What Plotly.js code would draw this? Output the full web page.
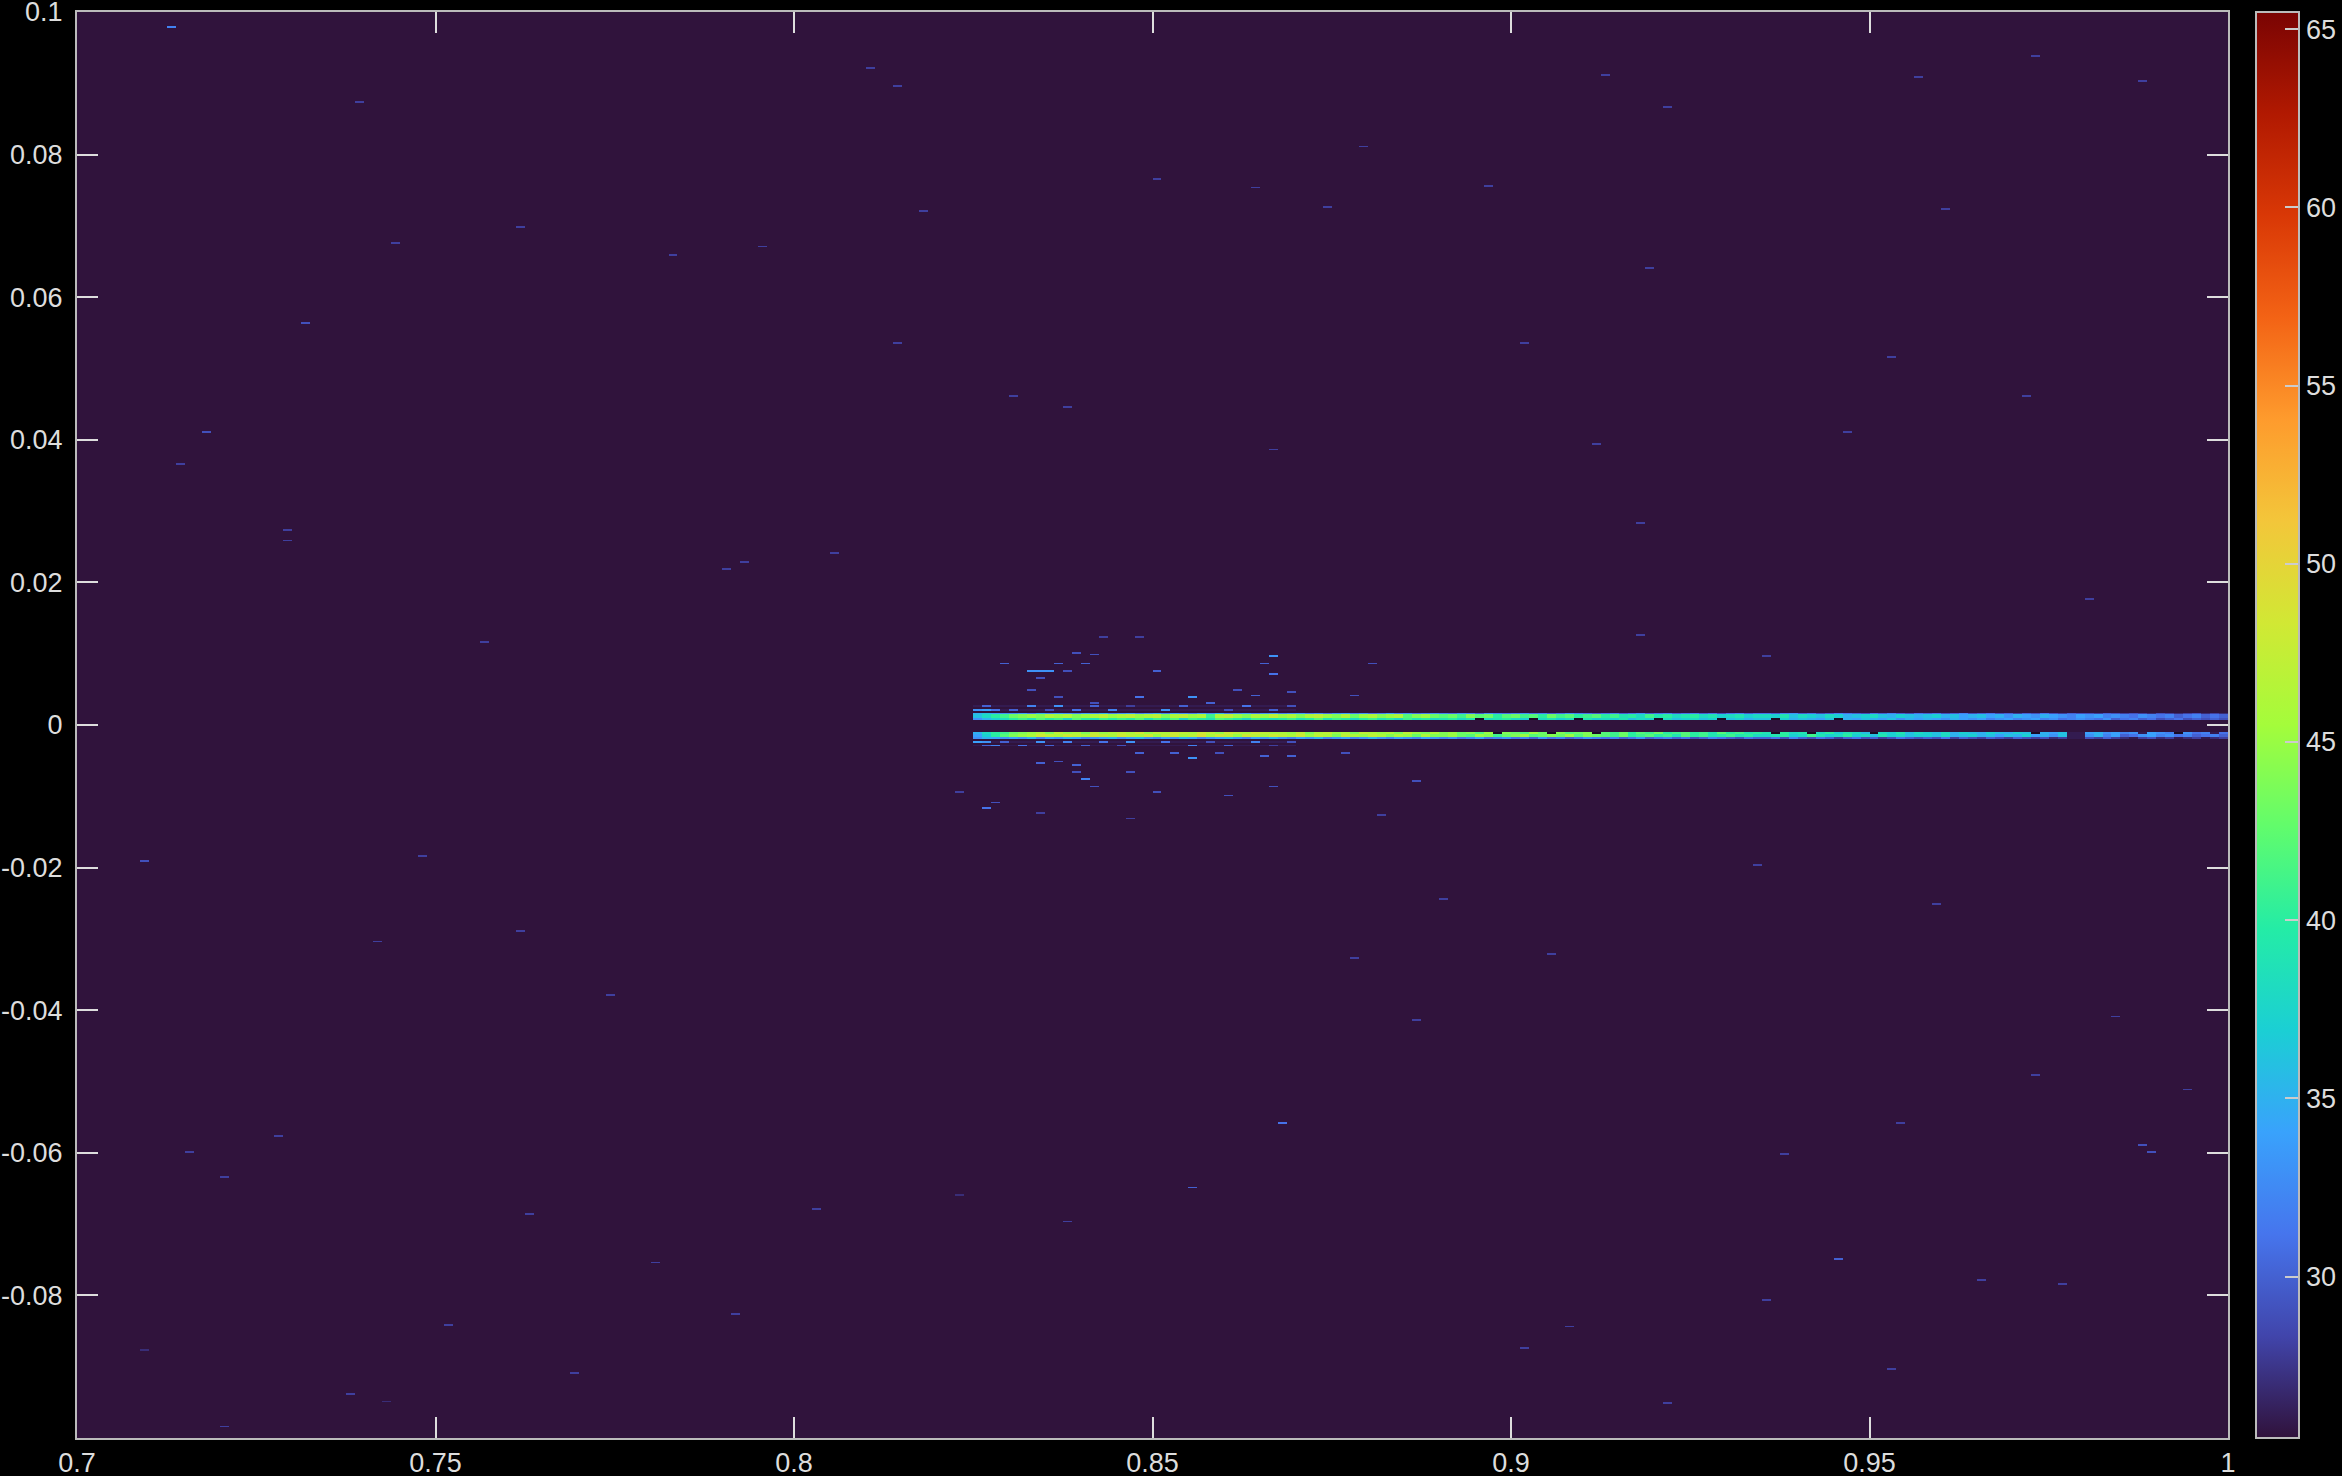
<!DOCTYPE html>
<html>
<head>
<meta charset="utf-8">
<script src="https://cdn.plot.ly/plotly-3.0.1.min.js"></script>
<style>html,body{margin:0;padding:0;background:#000;}#chart{width:2342px;height:1476px;}</style>
</head>
<body>
<div id="chart"></div>
<script>
// ---------------- DATA ----------------
const xTickVals = [0.7, 0.75, 0.8, 0.85, 0.9, 0.95, 1];
const xTickText = ['0.7', '0.75', '0.8', '0.85', '0.9', '0.95', '1'];
const yTickVals = [0.1, 0.08, 0.06, 0.04, 0.02, 0, -0.02, -0.04, -0.06, -0.08];
const yTickText = ['0.1', '0.08', '0.06', '0.04', '0.02', '0', '-0.02', '-0.04', '-0.06', '-0.08'];
const cbTickVals = [30, 35, 40, 45, 50, 55, 60, 65];

const zMin = 25.47, zMax = 65.48, zBackground = 25.5;
const xStart = 0.7, xBin = 0.00125, nCols = 240;   // 0.7 .. 1.0
const yStart = -0.1, yBin = 0.00025, nRows = 800;  // -0.1 .. 0.1

// band: columns from x = 0.825 (column 100) to x = 1.0 (column 239)
const bandFirstCol = 100;
// upper band (y ~ +0.00075..+0.00175)
const upperInner = [33,35,37,38,
 40,41,39,42,40,41,38,42,40,39,41,40,
 41,40,42,39,41,40,42,38,41,40,39,42,41,40,38,41,40,39,
 40,41,39,40,42,39,41,40,38,40,41,39,40,38,41,39,40,38,
 39,40,38,39,null,38,39,40,38,37,null,38,39,37,38,null,39,37,
 38,37,39,36,38,37,null,38,36,37,38,36,37,null,36,37,35,36,
 36,null,37,35,36,35,34,36,null,35,34,36,35,34,36,33,35,34,
 35,34,33,35,34,33,34,32,33,34,32,33,34,32,33,31,32,33,
 32,31,33,30,31,32,30,31,29,30,31,29,30,29,30,29];
const upperCore = [36,38,40,41,
 43,44,45,44,46,45,46,44,45,46,47,45,
 46,47,45,46,47,44,46,47,45,46,41,46,47,45,44,46,45,47,
 45,46,44,46,47,45,44,46,43,45,46,44,45,46,42,44,45,43,
 42,43,41,44,42,43,40,42,43,41,42,40,43,41,42,40,41,42,
 40,41,39,40,38,41,39,40,38,39,40,38,39,37,38,39,37,38,
 38,37,39,36,38,37,36,38,37,35,36,37,38,36,35,37,36,35,
 36,37,35,36,34,35,36,34,35,33,35,34,33,35,34,33,32,34,
 33,34,32,33,32,31,33,32,31,32,30,31,32,30,31,30];
const upperOuter = [35,36,34,33,
 33,34,32,35,33,34,33,32,34,33,35,32,
 33,34,32,33,35,32,34,33,32,34,33,35,32,33,34,32,33,34,
 32,33,34,32,33,31,33,34,32,33,31,32,34,32,33,31,32,33,
 32,31,33,32,30,33,32,31,32,33,31,32,30,31,33,32,31,30,
 31,32,30,31,33,30,31,32,30,31,32,30,31,29,31,32,30,31,
 31,30,32,33,30,31,29,30,32,31,30,29,31,30,32,30,29,31,
 30,31,29,30,32,29,30,31,29,30,28,30,29,31,29,28,30,29,
 29,28,30,29,28,29,28,27,29,28,27,28,29,27,28,27];
const upperHaloA = [33,34,31,26,30,26,26,26,29,26,26,31,26,26,26,32,26,26,26,26,
 26,33,26,26,26,26,26,26,29,26,26,26,26,30,26,26];
const upperHaloB = [26,30,26,26,26,26,32,26,26,33,26,26,26,30,26,26,26,28,26,26,
 26,26,26,30,26,26,26,26,26,26,31,26,26,26,26,29];
// lower band (y ~ -0.001..-0.002)
const lowerInner = [35,38,40,41,
 43,44,45,46,44,47,45,46,44,47,45,46,
 47,46,48,45,47,46,48,47,46,48,47,45,48,47,46,48,47,46,
 46,45,47,44,46,47,45,46,44,47,46,45,46,44,47,45,44,46,
 44,45,43,44,42,45,null,44,43,42,45,43,null,44,42,43,44,null,
 42,41,43,40,42,41,43,40,41,42,40,41,39,42,40,41,39,40,
 39,null,40,38,39,null,38,40,37,39,38,36,null,38,37,39,36,38,
 37,36,38,35,37,36,35,37,36,35,37,36,null,35,34,36,26,26,
 34,35,33,34,32,33,26,34,33,32,null,33,31,32,26,31];
const lowerCore = [34,37,40,42,
 44,45,46,48,47,46,48,47,46,48,47,46,
 48,47,46,48,45,47,48,46,47,49,46,48,47,45,48,47,46,48,
 47,46,48,45,47,46,44,47,46,45,47,46,44,46,45,43,46,44,
 44,45,43,42,45,44,41,43,44,45,42,43,44,43,45,42,44,43,
 42,41,43,40,41,42,40,41,39,42,40,41,39,40,41,39,40,38,
 38,39,40,37,38,41,39,37,38,40,37,38,36,39,37,38,36,37,
 37,36,38,35,36,37,35,36,34,36,35,37,34,35,33,36,26,26,
 33,35,32,34,30,31,33,34,32,33,31,32,30,31,32,30];
const lowerOuter = [33,35,34,33,
 34,33,35,32,34,33,35,34,32,33,34,35,
 33,34,35,33,32,34,33,35,34,32,33,34,35,33,32,34,33,35,
 33,32,34,33,35,32,33,34,32,33,35,33,32,34,33,32,34,33,
 32,33,31,32,34,31,32,33,31,32,30,33,31,32,30,31,33,32,
 31,32,30,31,33,30,31,32,30,31,29,30,32,31,30,29,31,30,
 30,31,29,32,30,29,31,30,28,30,31,29,30,28,29,31,30,29,
 30,29,31,28,30,29,28,30,29,28,30,29,28,29,27,28,26,26,
 29,28,30,28,27,26,28,29,27,28,26,27,28,26,27,28];
const lowerHaloA = [34,33,26,30,26,26,26,33,26,26,32,26,26,26,31,26,26,33,26,26,
 26,31,26,26,26,26,29,26,26,26,26,32,26,26,26,29];
const lowerHaloB = [26,30,32,26,26,31,26,26,30,26,26,26,30,26,26,26,29,26,26,26,
 26,26,26,26,32,26,26,26,30,26,26,26,26,28,26,26];

// scattered cells (x, y, value)
const speckX = [0.7132,0.7399,0.7441,0.7316,0.7184,0.7147,0.7295,0.7289,0.7566,0.7095,
 0.7476,0.7420,0.7622,0.7743,0.7276,0.7155,0.7212,0.7518,0.7695,0.7632,
 0.7091,0.7378,0.7430,0.7205,0.8107,0.8149,0.8507,0.8645,0.8180,0.7836,
 0.7615,0.7955,0.8799,0.8749,0.8966,0.9128,0.9224,0.9574,0.9736,0.9876,
 0.9193,0.9120,0.9465,0.9722,0.9530,0.9809,0.8674,0.8378,0.7934,0.8059,
 0.7905,0.8686,0.8553,0.8384,0.8778,0.8864,0.9455,0.9653,0.9768,0.9022,
 0.9081,0.9218,0.9882,0.9899,0.9943,0.9540,0.9386,0.9595,0.9343,0.9059,
 0.8903,0.9601,0.8226,0.9184,0.9017,0.7810,0.7924,0.8028,0.8143,0.8310,
 0.9351,0.9528,0.9840,0.9726,0.9351,0.9184,
 0.8292,0.8333,0.8346,0.8358,0.8367,0.8409,0.8396,0.8423,0.8436,0.8480,
 0.8665,0.8653,0.8665,0.8500,0.8339,0.8333,0.8384,0.8487,0.8550,0.8576,
 0.8615,0.8639,0.8806,0.8787,0.8692,0.8423,0.8371,
 0.8487,0.8550,0.8537,0.8590,0.8653,0.8766,0.8692,0.8340,0.8372,0.8396,
 0.8396,0.8473,0.8410,0.8423,0.8510,0.8271,0.8283,0.8604,0.8664,0.8869,
 0.8473,0.8230,0.8817,0.8339];
const speckY = [0.0979,0.0874,0.0675,0.0564,0.0411,0.0367,0.0273,0.0258,0.0116,-0.0192,
 -0.0183,-0.0305,-0.0288,-0.0378,-0.0577,-0.0600,-0.0634,-0.0841,-0.0908,-0.0686,
 -0.0877,-0.0938,-0.0950,-0.0984,0.0922,0.0897,0.0765,0.0753,0.0721,0.0659,
 0.0698,0.0671,0.0811,0.0726,0.0755,0.0910,0.0866,0.0908,0.0939,0.0904,
 0.0642,0.0393,0.0411,0.0462,0.0516,0.0175,0.0386,0.0445,0.0229,0.0242,
 0.0219,-0.0558,-0.0650,-0.0697,-0.0326,-0.0414,-0.0749,-0.0780,-0.0785,-0.0875,
 -0.0843,-0.0952,-0.0588,-0.0598,-0.0512,-0.0558,-0.0602,-0.0251,-0.0196,-0.0322,
 -0.0244,0.0724,-0.0659,0.0284,0.0535,-0.0753,-0.0826,-0.0680,0.0535,0.0462,
 -0.0806,-0.0904,-0.0408,-0.0491,0.0095,0.0127,
 0.0087,0.0077,0.0077,0.0077,0.0087,0.0087,0.0102,0.0098,0.0123,0.0123,
 0.0097,0.0087,0.0072,0.0077,0.0066,0.0049,0.0077,0.0038,0.0038,0.0032,
 0.0048,0.0041,0.0087,0.0042,0.0046,0.0031,0.0038,
 -0.0039,-0.0046,-0.0039,-0.0038,-0.0044,-0.0039,-0.0045,-0.0053,-0.0052,-0.0056,
 -0.0067,-0.0067,-0.0077,-0.0087,-0.0093,-0.0116,-0.0109,-0.0100,-0.0086,-0.0078,
 -0.0132,-0.0093,-0.0126,-0.0123];
const speckZ = [32,28,28,29,29,28,28,28,28,29,
 28,28,28,28,28,28,28,28,28,28,
 27,28,27,28,28,28,28,28,28,28,
 28,28,28,28,28,28,28,28,28,28,
 28,28,28,28,28,28,28,28,28,28,
 28,31,30,28,28,28,30,28,28,28,
 28,28,29,29,28,28,28,28,28,28,
 28,28,27,28,28,28,28,28,28,28,
 28,28,28,28,28,28,
 30,33,33,33,30,30,29,29,28,28,
 33,30,31,30,29,29,29,31,33,30,
 29,30,29,29,29,29,29,
 30,33,30,29,30,29,30,30,29,30,
 29,29,32,29,29,31,29,29,29,29,
 28,28,28,28];

// ---------------- BUILD GRID ----------------
const z = [];
for (let r = 0; r < nRows; r++) {
  z.push(new Array(nCols).fill(zBackground));
}
function rowOf(y) { return Math.floor((y - yStart) / yBin + 1e-9); }
function colOf(x) { return Math.floor((x - xStart) / xBin + 1e-9); }
function putRow(y, arr, firstCol) {
  const r = rowOf(y);
  for (let i = 0; i < arr.length; i++) {
    const c = firstCol + i;
    if (c >= nCols) break;
    z[r][c] = arr[i];
  }
}
// upper band rows (cell centres)
putRow(0.000875, upperInner, bandFirstCol);
putRow(0.001125, upperCore, bandFirstCol);
putRow(0.001375, upperCore, bandFirstCol);
putRow(0.001625, upperOuter, bandFirstCol);
putRow(0.002125, upperHaloA, bandFirstCol);
putRow(0.002625, upperHaloB, bandFirstCol);
// lower band rows
putRow(-0.001125, lowerInner, bandFirstCol);
putRow(-0.001375, lowerCore, bandFirstCol);
putRow(-0.001625, lowerCore, bandFirstCol);
putRow(-0.001875, lowerOuter, bandFirstCol);
putRow(-0.002375, lowerHaloA, bandFirstCol);
putRow(-0.002875, lowerHaloB, bandFirstCol);
for (let i = 0; i < speckX.length; i++) {
  const r = rowOf(speckY[i]), c = colOf(speckX[i]);
  if (r >= 0 && r < nRows && c >= 0 && c < nCols) z[r][c] = speckZ[i];
}

// turbo colour map
const turbo = ['#30123b','#4145ab','#4675ed','#39a2fc','#1bcfd4','#24eca6','#61fc6c','#a4fc3b',
  '#d1e834','#f3c63a','#fe9b2d','#f36315','#d93806','#b11901','#7a0403'];
const colorscale = turbo.map((c, i) => [i / (turbo.length - 1), c]);

const font = {family: 'Liberation Sans, Arial, sans-serif', size: 27, color: '#dddddd'};

const trace = {
  type: 'heatmap',
  z: z,
  x0: xStart + xBin / 2, dx: xBin,
  y0: yStart + yBin / 2, dy: yBin,
  zmin: zMin, zmax: zMax,
  zsmooth: false,
  colorscale: colorscale,
  hoverinfo: 'skip',
  colorbar: {
    x: 1.013, xanchor: 'left', xref: 'paper',
    y: 0.5, yanchor: 'middle', len: 1, lenmode: 'fraction',
    thickness: 43, thicknessmode: 'pixels',
    xpad: 0, ypad: 0,
    outlinewidth: 2, outlinecolor: '#bbbbbb',
    tickmode: 'array', tickvals: cbTickVals, ticktext: cbTickVals.map(String),
    ticks: 'inside', ticklen: 15, tickwidth: 2, tickcolor: '#cccccc',
    tickfont: font
  }
};

const axisCommon = {
  showgrid: false, zeroline: false,
  showline: true, linecolor: '#bbbbbb', linewidth: 2, mirror: 'ticks',
  ticks: 'inside', ticklen: 21, tickwidth: 2, tickcolor: '#dddddd',
  tickfont: font, tickmode: 'array', ticklabeloverflow: 'allow'
};

const layout = {
  width: 2342, height: 1476,
  paper_bgcolor: '#000000', plot_bgcolor: '#1a0c24',
  margin: {l: 77, r: 114, t: 12, b: 38, pad: 0, autoexpand: false},
  showlegend: false,
  xaxis: Object.assign({}, axisCommon, {
    range: [0.7, 1], tickvals: xTickVals, ticktext: xTickText, ticklabelstandoff: 0
  }),
  yaxis: Object.assign({}, axisCommon, {
    range: [-0.1, 0.1], tickvals: yTickVals, ticktext: yTickText, ticklabelstandoff: 7
  })
};

Plotly.newPlot('chart', [trace], layout, {displayModeBar: false, staticPlot: true});
</script>
</body>
</html>
